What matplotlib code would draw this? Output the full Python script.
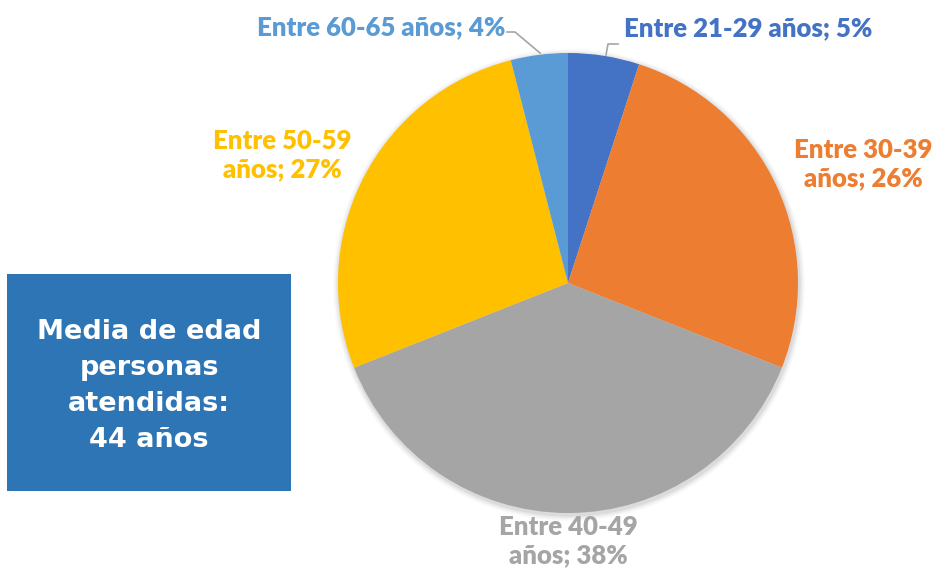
import matplotlib
matplotlib.use("Agg")
import matplotlib.pyplot as plt
from matplotlib.patches import Rectangle, Circle

categories = ["Entre 21-29\naños", "Entre 30-39\naños", "Entre 40-49\naños",
              "Entre 50-59\naños", "Entre 60-65 años"]
values = [5, 26, 38, 27, 4]
colors = ["#4472C4", "#ED7D31", "#A5A5A5", "#FFC000", "#5B9BD5"]
label_texts = ["Entre 21-29 años; 5%", "Entre 30-39\naños; 26%", "Entre 40-49\naños; 38%",
               "Entre 50-59\naños; 27%", "Entre 60-65 años; 4%"]
box_text = "Media de edad\npersonas\natendidas:\n44 años"

W, H = 932, 571
fig = plt.figure(figsize=(W / 100, H / 100), dpi=100)
ax = fig.add_axes([0, 0, 1, 1])

def Y(y):
    return H - y

cx, cy, r = 568, Y(283), 230

# faint shadow
for i, a in enumerate([0.05, 0.04, 0.03, 0.02]):
    ax.add_patch(Circle((cx + 1, cy - 2), r + 1.5 + i * 1.5, color="black", alpha=a, lw=0, zorder=0))

ax.pie(values, colors=colors, startangle=90, counterclock=False,
       center=(cx, cy), radius=r, wedgeprops=dict(linewidth=0))

ax.set_xlim(0, W)
ax.set_ylim(0, H)
ax.set_aspect("equal", adjustable="box")
ax.axis("off")

fnt = dict(family=["Lato", "DejaVu Sans"], fontweight="heavy", fontsize=18.5)
pos = [(624, 28, "left"), (863, 164, "center"), (568, 541, "center"),
       (282, 155, "center"), (505, 27, "right")]
for (x, y, ha), t, c in zip(pos, label_texts, colors):
    ax.text(x, Y(y), t, color=c, ha=ha, va="center", linespacing=1.2, **fnt)

# leader lines
ax.plot([606, 608, 618], [Y(55), Y(44), Y(44)], color="#A5A5A5", lw=1.2)
ax.plot([507, 515, 540], [Y(32), Y(32), Y(53)], color="#A5A5A5", lw=1.2)

# box
ax.add_patch(Rectangle((7, Y(491)), 284, 217, color="#2E75B6", lw=0, zorder=3))
ax.text(149, Y(386), box_text, color="white", ha="center", va="center",
        family=["DejaVu Sans"], fontweight="bold", fontsize=19.5, linespacing=1.5, zorder=4)

fig.savefig("out.png", dpi=100)
